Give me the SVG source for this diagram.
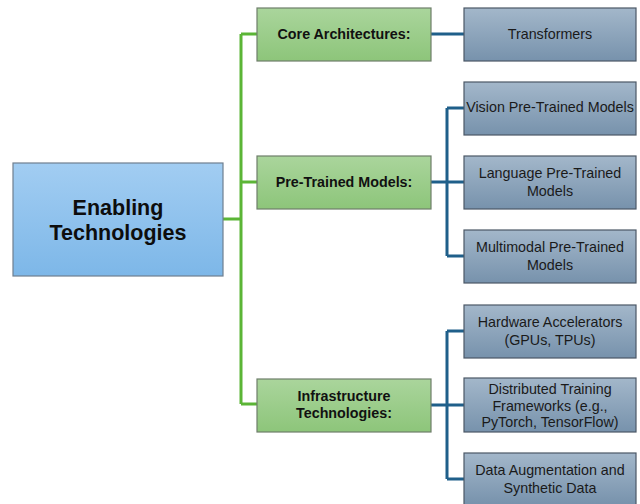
<svg xmlns="http://www.w3.org/2000/svg" width="640" height="504" viewBox="0 0 640 504">
  <defs>
    <linearGradient id="gRoot" x1="0" y1="0" x2="0" y2="1">
      <stop offset="0" stop-color="#A2CDF2"/>
      <stop offset="1" stop-color="#7DB7E8"/>
    </linearGradient>
    <linearGradient id="gGreen" x1="0" y1="0" x2="0" y2="1">
      <stop offset="0" stop-color="#AAD59C"/>
      <stop offset="1" stop-color="#8DC57A"/>
    </linearGradient>
    <linearGradient id="gBlue" x1="0" y1="0" x2="0" y2="1">
      <stop offset="0" stop-color="#A3B7CA"/>
      <stop offset="1" stop-color="#7792AC"/>
    </linearGradient>
  </defs>
  <style>
    .root { fill: url(#gRoot); stroke: #6F7F8F; stroke-width: 1.2; }
    .cat { fill: url(#gGreen); stroke: #6E7E6A; stroke-width: 1.2; }
    .leaf { fill: url(#gBlue); stroke: #4B5866; stroke-width: 1.2; }
    .tRoot { font-family: "Liberation Sans", Arial, sans-serif; font-weight: bold; font-size: 21.5px; fill: #0d0d0d; text-anchor: middle; }
    .tCat { font-family: "Liberation Sans", Arial, sans-serif; font-weight: bold; font-size: 14.3px; fill: #111; text-anchor: middle; }
    .tLeaf { font-family: "Liberation Sans", Arial, sans-serif; font-size: 14.3px; fill: #1a1a1a; text-anchor: middle; }
    .cg { fill: none; stroke: #5BB536; stroke-width: 3; }
    .cb { fill: none; stroke: #1F5F8A; stroke-width: 3; }
  </style>

  <!-- connectors -->
  <g id="connectors">
    <path class="cg" d="M223 219 H241 M241 34 V404 M241 34 H257 M241 182 H257 M241 404 H257"/>
    <path class="cb" d="M431 34 H464"/>
    <path class="cb" d="M431 182 H447 M447 108 V256 M447 108 H464 M447 182 H464 M447 256 H464"/>
    <path class="cb" d="M431 405 H447 M447 331 V479 M447 331 H464 M447 405 H464 M447 479 H464"/>
  </g>

  <!-- root -->
  <g id="enabling-technologies">
    <rect class="root" x="13" y="163" width="210" height="113"/>
    <text class="tRoot" x="118" y="215">Enabling</text>
    <text class="tRoot" x="118" y="240">Technologies</text>
  </g>

  <!-- categories -->
  <g id="core-architectures">
    <rect class="cat" x="257" y="8" width="174" height="53"/>
    <text class="tCat" x="344" y="39">Core Architectures:</text>
  </g>
  <g id="pre-trained-models">
    <rect class="cat" x="257" y="156" width="174" height="53"/>
    <text class="tCat" x="344" y="187">Pre-Trained Models:</text>
  </g>
  <g id="infrastructure-technologies">
    <rect class="cat" x="257" y="379" width="174" height="53"/>
    <text class="tCat" x="344" y="401">Infrastructure</text>
    <text class="tCat" x="344" y="418">Technologies:</text>
  </g>

  <!-- leaves -->
  <g id="transformers">
    <rect class="leaf" x="464" y="8" width="172" height="53"/>
    <text class="tLeaf" x="550" y="39">Transformers</text>
  </g>
  <g id="vision-ptm">
    <rect class="leaf" x="464" y="82" width="172" height="53"/>
    <text class="tLeaf" x="550" y="112">Vision Pre-Trained Models</text>
  </g>
  <g id="language-ptm">
    <rect class="leaf" x="464" y="156" width="172" height="53"/>
    <text class="tLeaf" x="550" y="178">Language Pre-Trained</text>
    <text class="tLeaf" x="550" y="195.5">Models</text>
  </g>
  <g id="multimodal-ptm">
    <rect class="leaf" x="464" y="230" width="172" height="53"/>
    <text class="tLeaf" x="550" y="252">Multimodal Pre-Trained</text>
    <text class="tLeaf" x="550" y="269.5">Models</text>
  </g>
  <g id="hardware-accelerators">
    <rect class="leaf" x="464" y="305" width="172" height="53"/>
    <text class="tLeaf" x="550" y="327">Hardware Accelerators</text>
    <text class="tLeaf" x="550" y="344.5">(GPUs, TPUs)</text>
  </g>
  <g id="distributed-training">
    <rect class="leaf" x="464" y="378" width="172" height="54"/>
    <text class="tLeaf" x="550" y="394">Distributed Training</text>
    <text class="tLeaf" x="550" y="410.5">Frameworks (e.g.,</text>
    <text class="tLeaf" x="550" y="427">PyTorch, TensorFlow)</text>
  </g>
  <g id="data-augmentation">
    <rect class="leaf" x="464" y="453" width="172" height="52"/>
    <text class="tLeaf" x="550" y="475">Data Augmentation and</text>
    <text class="tLeaf" x="550" y="492.5">Synthetic Data</text>
  </g>
</svg>
